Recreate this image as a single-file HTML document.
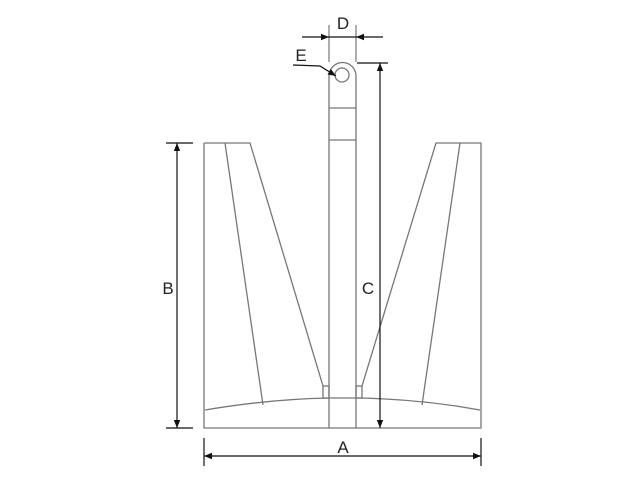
<!DOCTYPE html>
<html><head><style>body{margin:0;background:#fff}svg{display:block}</style></head><body>
<svg width="640" height="480" viewBox="0 0 640 480" xmlns="http://www.w3.org/2000/svg">
<defs>
<marker id="ar" viewBox="0 0 10 10" refX="10" refY="5" markerWidth="12" markerHeight="8" orient="auto-start-reverse" markerUnits="userSpaceOnUse"><path d="M0,1 L10,5 L0,9 z" fill="#111"/></marker>
</defs>
<g fill="none" stroke="#777" stroke-width="1.3">
<!-- base -->
<path d="M204,143 L250,143 L323,386 M204,143 L204,428 L481,428 L481,143 L436,143 L362,386"/>
<path d="M225,143 L263,405 M460,143 L422,405"/>
<path d="M205,410 Q270,399 330,398 L356,398 Q420,399 480,410"/>
<rect x="323" y="386" width="6" height="12"/>
<rect x="356" y="386" width="6" height="12"/>
<!-- shank -->
<path d="M329,428 L329,76 A13.5,13.5 0 0 1 356,76 L356,428"/>
<path d="M329,108 L356,108 M329,140 L356,140"/>
<circle cx="342" cy="75" r="7"/>
</g>
<g stroke="#111" stroke-width="1.2" fill="none">
<!-- D -->
<path d="M329,25 L329,62 M356,25 L356,62" stroke="#777"/>
<line x1="302" y1="37" x2="329" y2="37" marker-end="url(#ar)"/>
<line x1="383" y1="37" x2="356" y2="37" marker-end="url(#ar)"/>
<line x1="329" y1="37" x2="356" y2="37"/>
<!-- E -->
<polyline points="293,65 320,66 336,76" marker-end="url(#ar)"/>
<!-- C -->
<line x1="357" y1="63" x2="388" y2="63"/>
<line x1="380" y1="63" x2="380" y2="428" marker-start="url(#ar)" marker-end="url(#ar)"/>
<!-- B -->
<line x1="166" y1="143" x2="193" y2="143"/>
<line x1="166" y1="428" x2="193" y2="428"/>
<line x1="177" y1="143" x2="177" y2="428" marker-start="url(#ar)" marker-end="url(#ar)"/>
<!-- A -->
<line x1="204" y1="438" x2="204" y2="466"/>
<line x1="481" y1="438" x2="481" y2="466"/>
<line x1="204" y1="456" x2="481" y2="456" marker-start="url(#ar)" marker-end="url(#ar)"/>
</g>
<g font-family="Liberation Sans, sans-serif" font-size="17" fill="#222" text-anchor="middle">
<text x="343" y="29">D</text>
<text x="301" y="61">E</text>
<text x="168" y="294">B</text>
<text x="368" y="294">C</text>
<text x="343" y="453">A</text>
</g>
</svg>
</body></html>
